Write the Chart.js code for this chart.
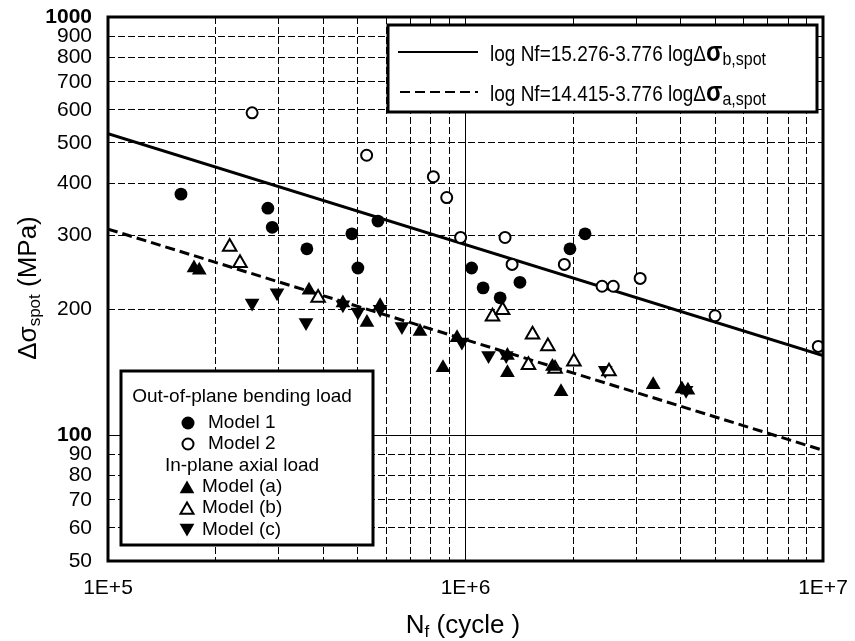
<!DOCTYPE html>
<html>
<head>
<meta charset="utf-8">
<script src="https://cdn.jsdelivr.net/npm/chart.js@4"></script>
<style>
  html, body { margin: 0; padding: 0; background: #fff; }
</style>
</head>
<body>
<canvas id="snChart" width="855" height="641"></canvas>
<script>
// Out-of-plane bending load, [Nf, stress range MPa]
const model1 = [[1.60e5, 377], [2.80e5, 349], [2.88e5, 314], [3.60e5, 279], [4.81e5, 303], [5.00e5, 251],
  [5.69e5, 325], [1.04e6, 251], [1.12e6, 225], [1.25e6, 213], [1.42e6, 232], [1.96e6, 279], [2.16e6, 303]];
const model2 = [[2.53e5, 590], [5.29e5, 467], [8.13e5, 415], [8.86e5, 370], [9.69e5, 297], [1.29e6, 297],
  [1.35e6, 256], [1.89e6, 256], [2.41e6, 227], [2.59e6, 227], [3.08e6, 237], [4.99e6, 193], [9.70e6, 163]];

// In-plane axial load
const modelA = [[1.74e5, 251], [1.80e5, 248], [3.65e5, 222], [4.54e5, 207], [5.30e5, 186], [5.77e5, 204],
  [7.46e5, 177], [8.65e5, 145], [9.47e5, 171], [1.31e6, 155], [1.31e6, 141], [1.75e6, 146], [1.85e6, 127],
  [3.35e6, 132], [4.03e6, 129], [4.19e6, 128]];
const modelB = [[2.19e5, 282], [2.34e5, 258], [3.87e5, 213], [1.19e6, 192], [1.27e6, 199], [1.54e6, 174],
  [1.70e6, 163], [1.50e6, 147], [1.78e6, 144], [2.01e6, 150], [2.52e6, 142]];
const modelC = [[2.53e5, 207], [2.97e5, 219], [3.58e5, 186], [4.54e5, 205], [5.00e5, 197], [5.77e5, 200],
  [6.64e5, 182], [9.77e5, 167], [1.16e6, 155], [1.30e6, 155], [2.46e6, 143], [4.14e6, 128]];

// regression lines, end points read at 1E+5 and 1E+7
const lineB = [[1e5, 526], [1e7, 155]];
const lineA = [[1e5, 311], [1e7, 92]];

// axis ticks
const xTicks = [1e5, 2e5, 3e5, 4e5, 5e5, 6e5, 7e5, 8e5, 9e5, 1e6, 2e6, 3e6, 4e6, 5e6, 6e6, 7e6, 8e6, 9e6, 1e7];
const xMajor = [1e5, 1e6, 1e7];
const yTicks = [50, 60, 70, 80, 90, 100, 200, 300, 400, 500, 600, 700, 800, 900, 1000];
const yMajor = [50, 100, 1000];

const FONT = '"Liberation Sans", Arial, sans-serif';
const toXY = arr => arr.map(p => ({ x: p[0], y: p[1] }));

// draws a row of text pieces with different fonts (for subscripts)
function drawRuns(ctx, runs, x, y, align) {
  let total = 0;
  runs.forEach(r => { ctx.font = r.font; r.w = ctx.measureText(r.text).width; total += r.w; });
  let cx = align === 'center' ? x - total / 2 : x;
  runs.forEach(r => {
    ctx.font = r.font;
    ctx.fillText(r.text, cx, y + (r.dy || 0));
    cx += r.w;
  });
}

function marker(ctx, style, x, y, r, rot, filled) {
  ctx.save();
  ctx.fillStyle = filled ? '#000' : '#fff';
  ctx.strokeStyle = '#000';
  ctx.lineWidth = 2;
  Chart.helpers.drawPoint(ctx, { pointStyle: style, radius: r, rotation: rot, borderWidth: filled ? 0 : 2 }, x, y);
  ctx.restore();
}

const decorations = {
  id: 'decorations',
  afterDraw(chart) {
    const ctx = chart.ctx;
    const a = chart.chartArea;
    ctx.save();
    ctx.fillStyle = '#000';
    ctx.strokeStyle = '#000';
    ctx.textBaseline = 'alphabetic';

    // plot frame
    ctx.lineWidth = 3;
    ctx.strokeRect(a.left, a.top, a.right - a.left, a.bottom - a.top);

    // equation legend
    ctx.fillStyle = '#fff';
    ctx.fillRect(388, 25, 429, 87);
    ctx.lineWidth = 3;
    ctx.strokeRect(388, 25, 429, 87);
    ctx.lineWidth = 2;
    ctx.beginPath(); ctx.moveTo(398, 52); ctx.lineTo(478, 52); ctx.stroke();
    ctx.setLineDash([10, 5]);
    ctx.beginPath(); ctx.moveTo(400, 92); ctx.lineTo(478, 92); ctx.stroke();
    ctx.setLineDash([]);
    ctx.fillStyle = '#000';
    [[61, '15.276', 'b,spot'], [101, '14.415', 'a,spot']].forEach(([by, c, sub]) => {
      ctx.save();
      ctx.translate(0, by);
      ctx.scale(1, 1.17);
      drawRuns(ctx, [
        { text: 'log Nf=' + c + '-3.776 log', font: '19px ' + FONT },
        { text: '\u0394', font: '19px ' + FONT },
        { text: '\u03c3', font: 'bold 24px ' + FONT },
        { text: sub, font: '16px ' + FONT, dy: 3 }
      ], 490, 0);
      ctx.restore();
    });

    // marker legend
    ctx.fillStyle = '#fff';
    ctx.fillRect(121, 371, 252, 174);
    ctx.lineWidth = 3;
    ctx.strokeRect(121, 371, 252, 174);
    ctx.fillStyle = '#000';
    ctx.font = '19px ' + FONT;
    ctx.textBaseline = 'middle';
    ctx.textAlign = 'center';
    ctx.fillText('Out-of-plane bending load', 242, 397);
    ctx.fillText('In-plane axial load', 242, 466);
    ctx.textAlign = 'left';
    ctx.fillText('Model 1', 208, 423);
    ctx.fillText('Model 2', 208, 444);
    ctx.fillText('Model (a)', 202, 487);
    ctx.fillText('Model (b)', 202, 508);
    ctx.fillText('Model (c)', 202, 530);
    marker(ctx, 'circle', 188, 423, 6.5, 0, true);
    marker(ctx, 'circle', 188, 444, 5.5, 0, false);
    marker(ctx, 'triangle', 187, 489, 8.5, 0, true);
    marker(ctx, 'triangle', 187, 510, 7.5, 0, false);
    marker(ctx, 'triangle', 187, 528, 8.5, 180, true);

    // axis titles
    ctx.textBaseline = 'alphabetic';
    ctx.fillStyle = '#000';
    drawRuns(ctx, [
      { text: 'N', font: '26px ' + FONT },
      { text: 'f', font: '17px ' + FONT, dy: 4 },
      { text: ' (cycle )', font: '26px ' + FONT }
    ], 463, 633, 'center');

    ctx.save();
    ctx.translate(36, 288);
    ctx.rotate(-Math.PI / 2);
    drawRuns(ctx, [
      { text: '\u0394\u03c3', font: '26px ' + FONT },
      { text: 'spot', font: '17px ' + FONT, dy: 4 },
      { text: ' (MPa)', font: '26px ' + FONT }
    ], 0, 0, 'center');
    ctx.restore();

    ctx.restore();
  }
};

const ctx = document.getElementById('snChart').getContext('2d');
new Chart(ctx, {
  type: 'scatter',
  data: {
    datasets: [
      { label: 'Model 1', data: toXY(model1), pointStyle: 'circle', pointRadius: 6.4,
        backgroundColor: '#000', borderColor: '#000', borderWidth: 0 },
      { label: 'Model 2', data: toXY(model2), pointStyle: 'circle', pointRadius: 5.5,
        backgroundColor: '#fff', borderColor: '#000', borderWidth: 2 },
      { label: 'Model (a)', data: toXY(modelA), pointStyle: 'triangle', pointRadius: 8.5,
        backgroundColor: '#000', borderColor: '#000', borderWidth: 0 },
      { label: 'Model (b)', data: toXY(modelB), pointStyle: 'triangle', pointRadius: 7.8,
        backgroundColor: '#fff', borderColor: '#000', borderWidth: 2 },
      { label: 'Model (c)', data: toXY(modelC), pointStyle: 'triangle', rotation: 180, pointRadius: 8.5,
        backgroundColor: '#000', borderColor: '#000', borderWidth: 0 },
      { label: 'bending', data: toXY(lineB), showLine: true, pointRadius: 0,
        borderColor: '#000', borderWidth: 3, order: 10 },
      { label: 'axial', data: toXY(lineA), showLine: true, pointRadius: 0,
        borderColor: '#000', borderWidth: 3, borderDash: [10, 5], order: 10 }
    ]
  },
  options: {
    responsive: false,
    animation: false,
    devicePixelRatio: 1,
    layout: { padding: { top: 17, right: 32, left: 0, bottom: 0 } },
    plugins: { legend: { display: false }, tooltip: { enabled: false } },
    scales: {
      x: {
        type: 'logarithmic',
        min: 1e5,
        max: 1e7,
        afterBuildTicks: s => { s.ticks = xTicks.map(v => ({ value: v })); },
        afterFit: s => { s.height = 80; s.paddingLeft = 0; s.paddingRight = 0; },
        ticks: {
          autoSkip: false,
          maxRotation: 0,
          padding: 15,
          color: '#000',
          font: { family: FONT, size: 21 },
          callback: v => xMajor.includes(v) ? '1E+' + Math.round(Math.log10(v)) : ''
        },
        grid: { color: '#000', lineWidth: 1, drawTicks: false },
        border: { display: false, dash: c => (c.tick && !xMajor.includes(c.tick.value)) ? [7, 3] : [] }
      },
      y: {
        type: 'logarithmic',
        min: 50,
        max: 1000,
        afterBuildTicks: s => { s.ticks = yTicks.map(v => ({ value: v })); },
        afterFit: s => { s.width = 108; s.paddingTop = 0; s.paddingBottom = 0; },
        ticks: {
          autoSkip: false,
          padding: 16,
          color: '#000',
          font: c => ({ family: FONT, size: 21, weight: (c.tick && (c.tick.value === 100 || c.tick.value === 1000)) ? 'bold' : 'normal' }),
          callback: v => String(v)
        },
        grid: { color: '#000', lineWidth: 1, drawTicks: false },
        border: { display: false, dash: c => (c.tick && !yMajor.includes(c.tick.value)) ? [7, 3] : [] }
      }
    }
  },
  plugins: [decorations]
});
</script>
</body>
</html>
